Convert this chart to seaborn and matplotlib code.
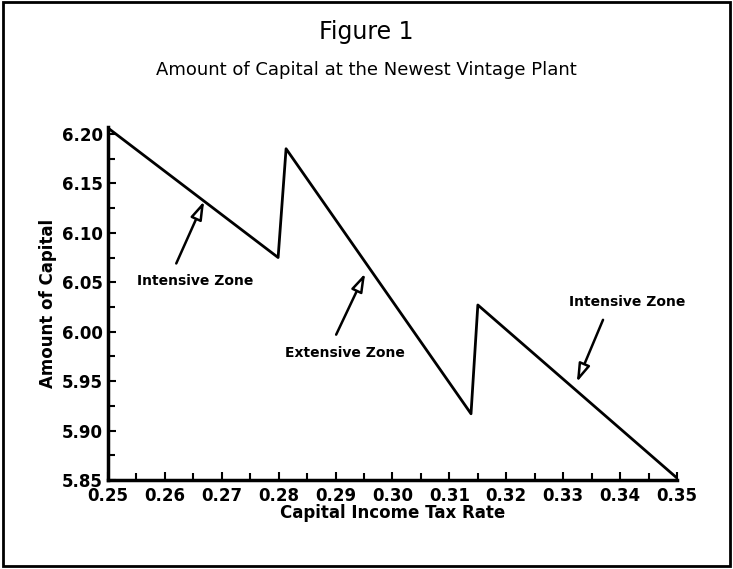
import matplotlib
matplotlib.use("Agg")
import matplotlib.pyplot as plt
import seaborn as sns
import pandas as pd
from matplotlib.patches import Rectangle
from matplotlib.ticker import MultipleLocator

# tax rate vs capital at newest vintage plant
tax_rate = [0.250, 0.2799, 0.2813, 0.3138, 0.3150, 0.350]
capital = [6.206, 6.075, 6.185, 5.917, 6.027, 5.852]

zone_labels = ["Intensive Zone", "Extensive Zone", "Intensive Zone"]

df = pd.DataFrame({"rate": tax_rate, "capital": capital})

sns.set_style("ticks", {"axes.edgecolor": "black", "text.color": "black",
                        "xtick.color": "black", "ytick.color": "black",
                        "axes.labelcolor": "black"})
plt.rcParams['font.family'] = ['DejaVu Sans']

fig = plt.figure(figsize=(7.33, 5.69), dpi=100)
ax = fig.add_axes([0.1473, 0.1564, 0.7763, 0.6204])

sns.lineplot(data=df, x="rate", y="capital", sort=False, color="black", linewidth=2, ax=ax)

ax.set_xlim(0.25, 0.35)
ax.set_ylim(5.85, 6.207)
ax.xaxis.set_major_locator(MultipleLocator(0.01))
ax.xaxis.set_minor_locator(MultipleLocator(0.005))
ax.yaxis.set_major_locator(MultipleLocator(0.05))
ax.yaxis.set_minor_locator(MultipleLocator(0.025))
ax.xaxis.set_major_formatter(lambda v, p: f"{v:.2f}")
ax.yaxis.set_major_formatter(lambda v, p: f"{v:.2f}")
ax.tick_params(which="both", direction="in", width=1.5, labelsize=12)
ax.tick_params(which="major", length=6)
ax.tick_params(which="minor", length=5)
ax.tick_params(axis="x", pad=5)
for lab in ax.get_xticklabels() + ax.get_yticklabels():
    lab.set_fontweight("bold")
sns.despine(ax=ax)
for s in ["left", "bottom"]:
    ax.spines[s].set_linewidth(2.5)

ax.set_xlabel("Capital Income Tax Rate", fontsize=12, fontweight="bold", labelpad=-1)
ax.set_ylabel("Amount of Capital", fontsize=12, fontweight="bold", labelpad=4)

# arrows with hollow heads
arrow = dict(arrowstyle="-|>,head_length=1.1,head_width=0.35", facecolor="white",
             edgecolor="black", linewidth=1.8, shrinkA=0, shrinkB=0)
ax.annotate("", xy=(0.2669, 6.132), xytext=(0.2620, 6.069), arrowprops=arrow)
ax.annotate("", xy=(0.2952, 6.059), xytext=(0.2901, 5.997), arrowprops=arrow)
ax.annotate("", xy=(0.3324, 5.949), xytext=(0.3370, 6.012), arrowprops=arrow)
ax.text(0.2653, 6.051, zone_labels[0], ha="center", va="center", fontsize=10, fontweight="bold")
ax.text(0.2917, 5.978, zone_labels[1], ha="center", va="center", fontsize=10, fontweight="bold")
ax.text(0.3413, 6.030, zone_labels[2], ha="center", va="center", fontsize=10, fontweight="bold")

fig.text(0.5, 1 - 32 / 569, "Figure 1", ha="center", va="center", fontsize=17)
fig.text(0.5, 1 - 70 / 569, "Amount of Capital at the Newest Vintage Plant", ha="center", va="center", fontsize=13)

fig.patches.append(Rectangle((0.004, 0.006), 0.992, 0.99, transform=fig.transFigure,
                             fill=False, edgecolor="black", linewidth=2))

fig.savefig("out.png", dpi=100)
